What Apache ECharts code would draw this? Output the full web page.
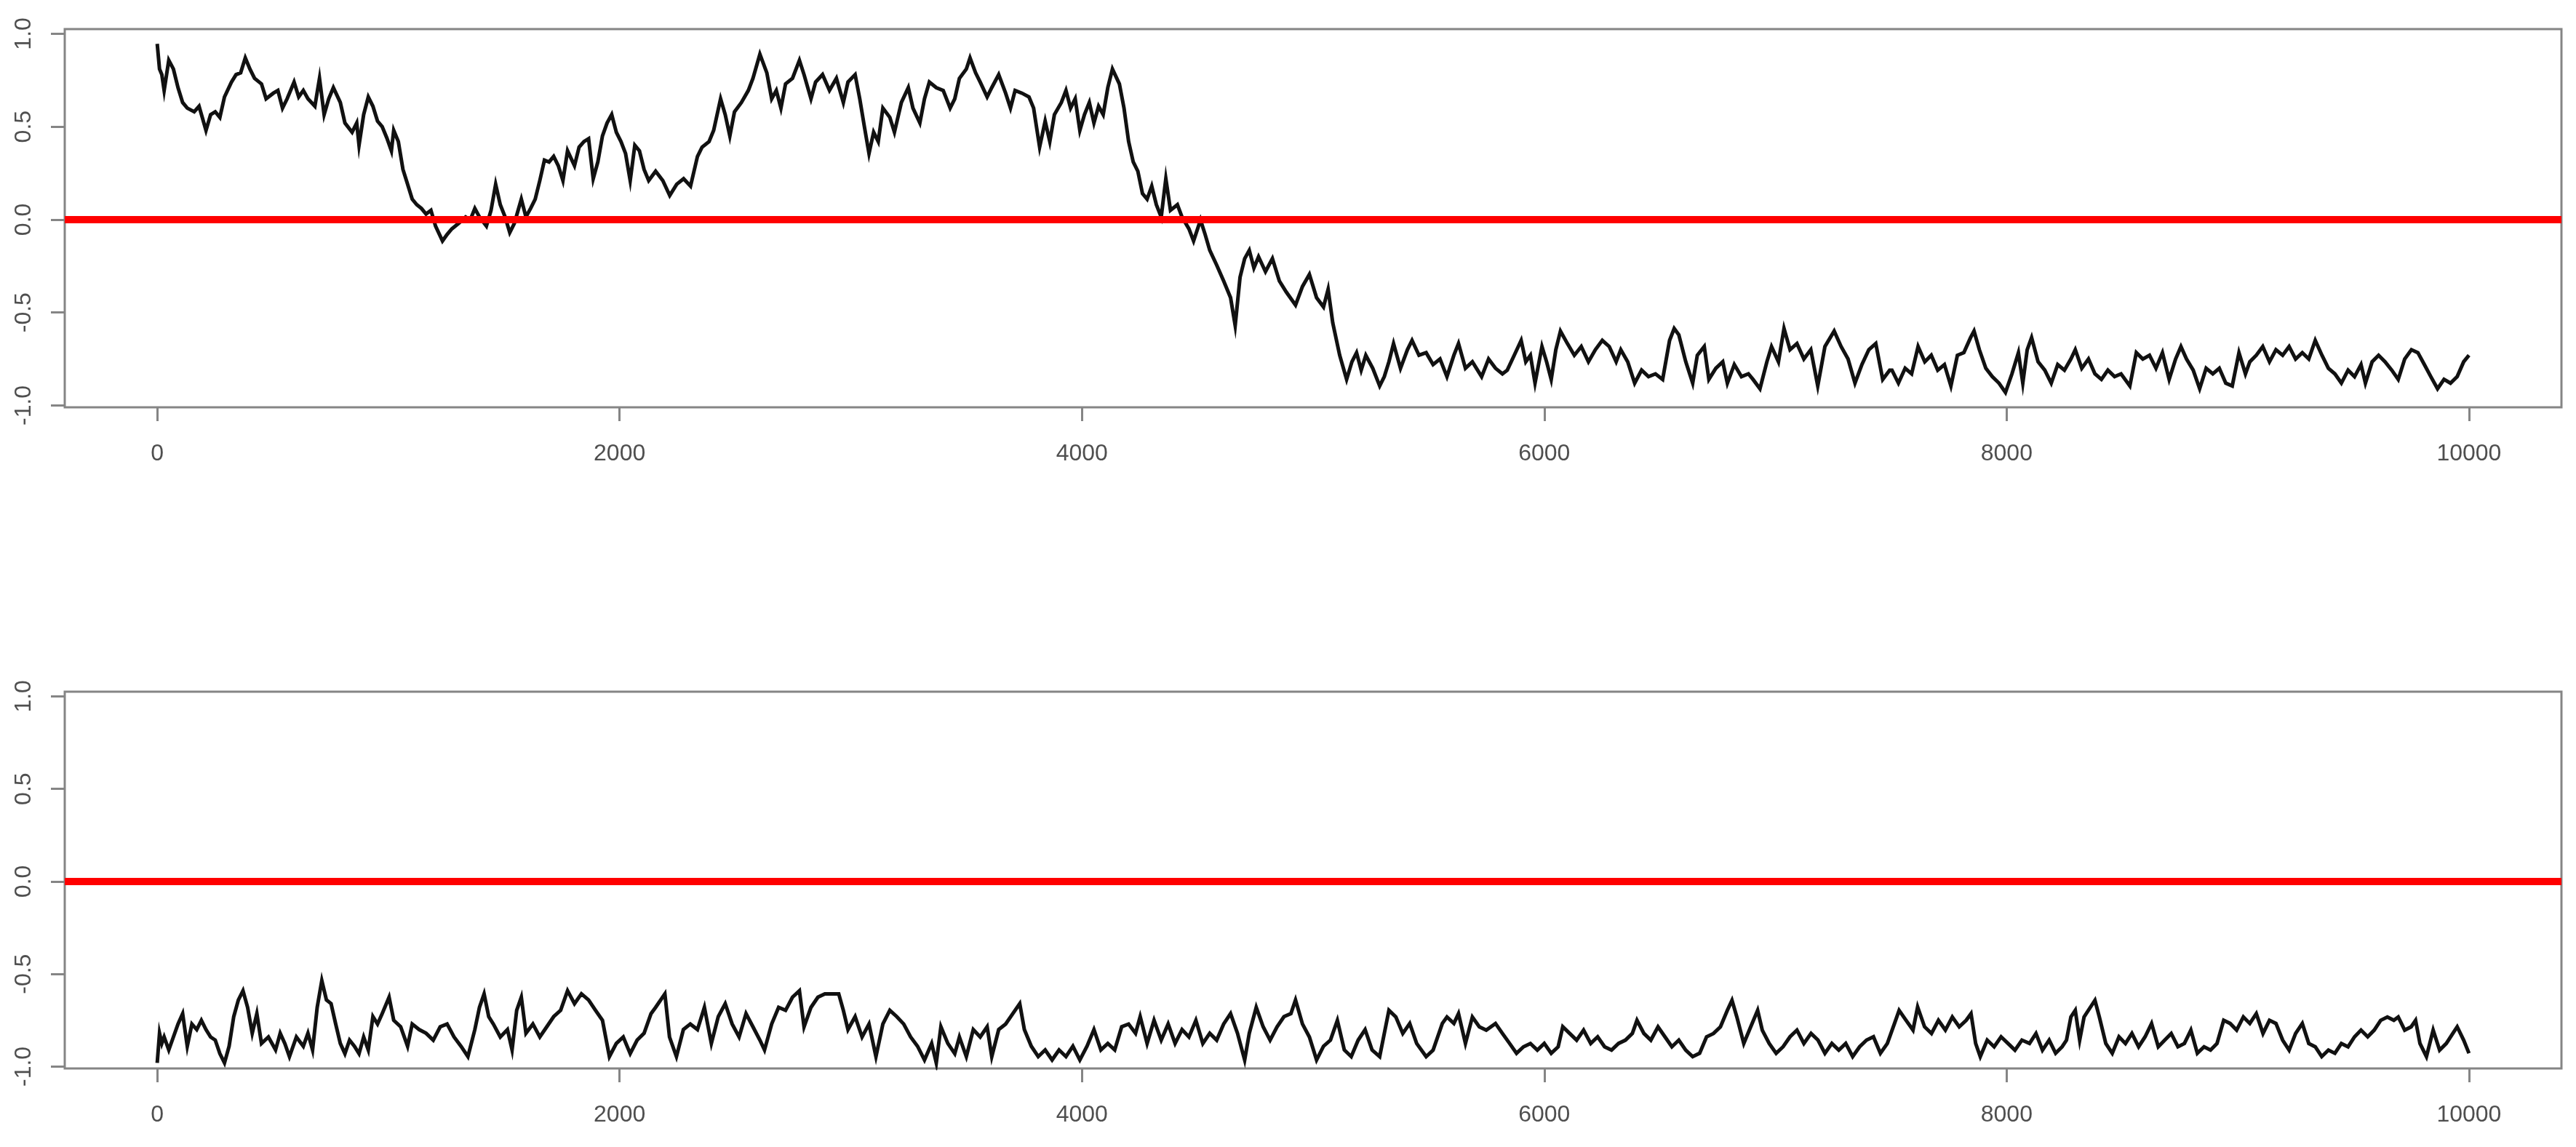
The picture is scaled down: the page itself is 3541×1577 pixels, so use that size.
<!DOCTYPE html>
<html>
<head>
<meta charset="utf-8">
<script src="https://cdn.jsdelivr.net/npm/echarts@6/dist/echarts.min.js"></script>
<style>
  html, body { margin: 0; padding: 0; background: #fff; }
  #main { width: 3541px; height: 1577px; }
</style>
</head>
<body>
<div id="main"></div>
<script>
// axis ticks and limits (R style: x padded 4% around 1..10000)
const xTicks = [0, 2000, 4000, 6000, 8000, 10000];
const yTicks = [-1.0, -0.5, 0.0, 0.5, 1.0];
const xRange = [-400, 10400];
const yRange = [-1.01, 1.025];
const zeroLevel = 0;

// top trace: [iteration, value]
const topTrace = [
  [0,0.946],[10,0.81],[20,0.78],[30,0.695],[50,0.857],[70,0.81],[90,0.71],[110,0.63],[130,0.60],[160,0.58],
  [181,0.61],[211,0.48],[231,0.565],[251,0.58],[271,0.55],[291,0.66],[321,0.74],[341,0.78],[361,0.79],[381,0.87],
  [401,0.81],[421,0.76],[451,0.73],[471,0.65],[502,0.68],[522,0.695],[542,0.60],[562,0.65],[592,0.74],[612,0.66],
  [632,0.695],[652,0.65],[682,0.61],[702,0.76],[722,0.565],[742,0.65],[762,0.71],[792,0.63],[812,0.52],[843,0.47],
  [863,0.52],[873,0.40],[893,0.565],[913,0.66],[933,0.61],[953,0.53],[973,0.50],[993,0.44],[1013,0.37],[1023,0.48],
  [1043,0.42],[1063,0.27],[1083,0.19],[1103,0.11],[1123,0.08],[1143,0.06],[1163,0.03],[1184,0.05],[1204,-0.035],[1234,-0.115],
  [1254,-0.08],[1274,-0.05],[1304,-0.02],[1334,0.014],[1354,-0.002],[1374,0.06],[1394,0.014],[1424,-0.035],[1444,0.05],[1464,0.19],
  [1484,0.08],[1505,0.014],[1525,-0.07],[1545,-0.02],[1575,0.11],[1595,0.014],[1615,0.06],[1635,0.11],[1655,0.21],[1675,0.32],
  [1695,0.31],[1715,0.34],[1735,0.29],[1755,0.21],[1775,0.37],[1805,0.29],[1825,0.39],[1846,0.42],[1866,0.435],[1886,0.22],
  [1906,0.31],[1926,0.45],[1946,0.52],[1966,0.565],[1986,0.47],[2006,0.42],[2026,0.355],[2046,0.21],[2066,0.40],[2086,0.37],
  [2106,0.27],[2126,0.21],[2156,0.26],[2187,0.21],[2217,0.13],[2247,0.19],[2277,0.22],[2307,0.18],[2337,0.34],[2357,0.39],
  [2387,0.42],[2407,0.48],[2437,0.65],[2457,0.565],[2477,0.45],[2497,0.58],[2527,0.63],[2557,0.695],[2577,0.76],[2607,0.89],
  [2637,0.79],[2658,0.65],[2678,0.695],[2698,0.60],[2718,0.73],[2748,0.76],[2778,0.857],[2798,0.78],[2828,0.65],[2848,0.74],
  [2878,0.78],[2908,0.695],[2938,0.76],[2968,0.63],[2988,0.74],[3019,0.78],[3039,0.65],[3059,0.50],[3079,0.355],[3099,0.47],
  [3119,0.42],[3139,0.60],[3169,0.55],[3189,0.47],[3219,0.63],[3249,0.71],[3269,0.60],[3299,0.52],[3319,0.65],[3340,0.74],
  [3370,0.71],[3400,0.695],[3430,0.60],[3450,0.65],[3470,0.76],[3500,0.81],[3516,0.87],[3540,0.79],[3560,0.74],[3590,0.66],
  [3610,0.71],[3640,0.78],[3670,0.68],[3691,0.60],[3711,0.695],[3741,0.68],[3771,0.66],[3791,0.60],[3817,0.39],[3841,0.53],
  [3861,0.42],[3881,0.565],[3911,0.63],[3931,0.695],[3951,0.60],[3971,0.65],[3991,0.48],[4011,0.565],[4032,0.63],[4052,0.52],
  [4072,0.61],[4092,0.565],[4112,0.71],[4132,0.81],[4162,0.73],[4182,0.60],[4202,0.42],[4222,0.31],[4242,0.26],[4262,0.14],
  [4282,0.11],[4302,0.18],[4322,0.08],[4343,0.014],[4363,0.22],[4383,0.05],[4413,0.08],[4433,0.014],[4463,-0.05],[4483,-0.115],
  [4513,-0.002],[4533,-0.08],[4553,-0.165],[4583,-0.245],[4613,-0.33],[4643,-0.42],[4663,-0.57],[4684,-0.31],[4704,-0.21],[4724,-0.165],
  [4744,-0.26],[4764,-0.20],[4794,-0.28],[4824,-0.21],[4854,-0.33],[4884,-0.39],[4924,-0.46],[4954,-0.36],[4984,-0.295],[5015,-0.42],
  [5045,-0.47],[5065,-0.375],[5085,-0.555],[5115,-0.73],[5145,-0.86],[5168,-0.765],[5188,-0.716],[5208,-0.81],[5228,-0.73],[5258,-0.80],
  [5288,-0.895],[5308,-0.845],[5328,-0.765],[5348,-0.667],[5378,-0.80],[5408,-0.70],[5428,-0.65],[5458,-0.73],[5489,-0.716],[5519,-0.78],
  [5549,-0.75],[5579,-0.845],[5609,-0.73],[5629,-0.667],[5659,-0.80],[5689,-0.765],[5729,-0.845],[5759,-0.75],[5789,-0.80],[5819,-0.83],
  [5840,-0.81],[5870,-0.73],[5900,-0.65],[5920,-0.765],[5940,-0.73],[5960,-0.88],[5990,-0.683],[6010,-0.765],[6030,-0.86],[6050,-0.70],
  [6070,-0.60],[6100,-0.667],[6130,-0.73],[6160,-0.683],[6191,-0.765],[6221,-0.70],[6251,-0.65],[6281,-0.683],[6311,-0.765],[6331,-0.70],
  [6361,-0.765],[6391,-0.88],[6421,-0.81],[6451,-0.845],[6481,-0.83],[6512,-0.86],[6542,-0.65],[6562,-0.586],[6582,-0.62],[6612,-0.765],
  [6642,-0.88],[6662,-0.73],[6692,-0.683],[6712,-0.86],[6742,-0.80],[6772,-0.765],[6792,-0.88],[6822,-0.78],[6853,-0.845],[6883,-0.83],
  [6903,-0.86],[6933,-0.91],[6963,-0.765],[6983,-0.683],[7013,-0.765],[7037,-0.586],[7063,-0.70],[7093,-0.667],[7123,-0.75],[7153,-0.70],
  [7183,-0.895],[7214,-0.683],[7254,-0.60],[7284,-0.683],[7314,-0.75],[7344,-0.88],[7374,-0.78],[7404,-0.70],[7434,-0.667],[7464,-0.86],
  [7494,-0.81],[7504,-0.81],[7532,-0.88],[7561,-0.80],[7589,-0.83],[7617,-0.683],[7646,-0.765],[7674,-0.73],[7702,-0.81],[7731,-0.78],
  [7759,-0.895],[7787,-0.73],[7815,-0.716],[7844,-0.635],[7859,-0.60],[7882,-0.70],[7910,-0.80],[7938,-0.845],[7967,-0.88],[7995,-0.93],
  [8023,-0.83],[8051,-0.716],[8070,-0.88],[8089,-0.70],[8108,-0.635],[8136,-0.765],[8165,-0.81],[8193,-0.88],[8221,-0.78],[8250,-0.81],
  [8278,-0.75],[8297,-0.70],[8325,-0.80],[8354,-0.75],[8382,-0.83],[8410,-0.86],[8438,-0.81],[8467,-0.845],[8495,-0.83],[8533,-0.895],
  [8561,-0.716],[8589,-0.75],[8618,-0.73],[8646,-0.80],[8674,-0.716],[8703,-0.86],[8731,-0.75],[8754,-0.683],[8778,-0.75],[8807,-0.81],
  [8835,-0.91],[8863,-0.80],[8892,-0.83],[8920,-0.80],[8948,-0.88],[8976,-0.895],[9005,-0.716],[9033,-0.83],[9052,-0.765],[9080,-0.73],
  [9108,-0.683],[9137,-0.765],[9165,-0.70],[9194,-0.73],[9222,-0.683],[9250,-0.75],[9279,-0.716],[9307,-0.75],[9335,-0.65],[9364,-0.73],
  [9392,-0.80],[9420,-0.83],[9448,-0.88],[9477,-0.81],[9505,-0.845],[9533,-0.78],[9552,-0.88],[9581,-0.765],[9609,-0.73],[9637,-0.765],
  [9666,-0.81],[9694,-0.86],[9722,-0.75],[9751,-0.70],[9779,-0.716],[9807,-0.78],[9835,-0.845],[9864,-0.91],[9892,-0.86],[9920,-0.88],
  [9949,-0.845],[9977,-0.765],[10000,-0.73]
];

// bottom trace: [iteration, value]
const bottomTrace = [
  [0,-0.98],[10,-0.82],[20,-0.875],[30,-0.84],[50,-0.91],[70,-0.84],[90,-0.77],[110,-0.714],[130,-0.89],[150,-0.77],
  [171,-0.80],[191,-0.75],[211,-0.80],[231,-0.84],[251,-0.857],[271,-0.93],[291,-0.98],[311,-0.89],[331,-0.73],[351,-0.64],
  [371,-0.59],[391,-0.68],[411,-0.82],[431,-0.714],[451,-0.875],[481,-0.84],[512,-0.91],[532,-0.82],[552,-0.875],[572,-0.946],
  [602,-0.84],[632,-0.89],[652,-0.82],[672,-0.91],[692,-0.68],[712,-0.535],[732,-0.64],[752,-0.66],[772,-0.77],[792,-0.875],
  [812,-0.93],[832,-0.857],[853,-0.89],[873,-0.93],[893,-0.84],[913,-0.91],[933,-0.73],[953,-0.77],[973,-0.714],[1003,-0.625],
  [1023,-0.75],[1053,-0.785],[1083,-0.89],[1103,-0.77],[1133,-0.80],[1163,-0.82],[1194,-0.857],[1224,-0.785],[1254,-0.77],[1284,-0.84],
  [1314,-0.89],[1344,-0.946],[1374,-0.80],[1394,-0.68],[1414,-0.607],[1434,-0.73],[1454,-0.77],[1484,-0.84],[1515,-0.80],[1535,-0.91],
  [1555,-0.696],[1575,-0.625],[1595,-0.82],[1625,-0.77],[1655,-0.84],[1685,-0.785],[1715,-0.73],[1745,-0.696],[1775,-0.59],[1805,-0.66],
  [1835,-0.607],[1866,-0.64],[1896,-0.696],[1926,-0.75],[1956,-0.946],[1986,-0.875],[2016,-0.84],[2046,-0.93],[2076,-0.857],[2106,-0.82],
  [2136,-0.714],[2156,-0.68],[2196,-0.607],[2216,-0.84],[2246,-0.946],[2276,-0.80],[2306,-0.77],[2337,-0.80],[2367,-0.68],[2397,-0.875],
  [2427,-0.73],[2457,-0.66],[2487,-0.77],[2517,-0.84],[2547,-0.714],[2577,-0.785],[2607,-0.857],[2627,-0.91],[2658,-0.77],[2688,-0.68],
  [2718,-0.696],[2748,-0.625],[2778,-0.59],[2798,-0.785],[2828,-0.68],[2858,-0.625],[2888,-0.607],[2918,-0.607],[2948,-0.607],[2968,-0.696],
  [2988,-0.80],[3019,-0.73],[3049,-0.84],[3079,-0.77],[3109,-0.946],[3139,-0.77],[3169,-0.696],[3199,-0.73],[3229,-0.77],[3259,-0.84],
  [3289,-0.89],[3319,-0.964],[3350,-0.875],[3370,-0.98],[3390,-0.785],[3420,-0.875],[3450,-0.93],[3470,-0.84],[3500,-0.946],[3530,-0.80],
  [3560,-0.84],[3590,-0.785],[3610,-0.946],[3640,-0.80],[3670,-0.77],[3701,-0.714],[3731,-0.66],[3751,-0.80],[3781,-0.89],[3811,-0.946],
  [3841,-0.91],[3871,-0.964],[3901,-0.91],[3931,-0.946],[3961,-0.89],[3991,-0.964],[4022,-0.89],[4052,-0.80],[4082,-0.91],[4112,-0.875],
  [4142,-0.91],[4172,-0.785],[4202,-0.77],[4232,-0.82],[4252,-0.73],[4282,-0.875],[4312,-0.75],[4343,-0.857],[4373,-0.77],[4403,-0.875],
  [4433,-0.80],[4463,-0.84],[4493,-0.75],[4523,-0.875],[4553,-0.82],[4583,-0.857],[4613,-0.77],[4643,-0.714],[4673,-0.82],[4704,-0.964],
  [4724,-0.82],[4754,-0.68],[4784,-0.785],[4814,-0.857],[4844,-0.785],[4874,-0.73],[4904,-0.714],[4924,-0.64],[4954,-0.77],[4984,-0.84],
  [5015,-0.964],[5045,-0.89],[5075,-0.857],[5105,-0.75],[5135,-0.91],[5165,-0.946],[5195,-0.857],[5225,-0.80],[5255,-0.91],[5288,-0.946],
  [5328,-0.696],[5358,-0.732],[5388,-0.821],[5418,-0.767],[5448,-0.875],[5489,-0.946],[5519,-0.911],[5559,-0.767],[5579,-0.732],[5609,-0.767],
  [5629,-0.714],[5659,-0.875],[5689,-0.732],[5719,-0.785],[5749,-0.803],[5789,-0.767],[5819,-0.821],[5850,-0.875],[5880,-0.928],[5910,-0.893],
  [5940,-0.875],[5970,-0.911],[6000,-0.875],[6030,-0.928],[6060,-0.893],[6080,-0.785],[6110,-0.821],[6140,-0.857],[6170,-0.803],[6201,-0.875],
  [6231,-0.839],[6261,-0.893],[6291,-0.911],[6321,-0.875],[6351,-0.857],[6381,-0.821],[6401,-0.75],[6431,-0.821],[6461,-0.857],[6492,-0.785],
  [6522,-0.839],[6552,-0.893],[6582,-0.857],[6612,-0.911],[6642,-0.946],[6672,-0.928],[6702,-0.839],[6732,-0.821],[6762,-0.785],[6792,-0.696],
  [6812,-0.642],[6833,-0.732],[6863,-0.875],[6893,-0.785],[6923,-0.696],[6943,-0.803],[6973,-0.875],[7003,-0.928],[7033,-0.893],[7063,-0.839],
  [7093,-0.803],[7123,-0.875],[7154,-0.821],[7184,-0.857],[7214,-0.928],[7244,-0.875],[7274,-0.911],[7304,-0.875],[7334,-0.946],[7364,-0.893],
  [7394,-0.857],[7424,-0.839],[7454,-0.928],[7484,-0.875],[7515,-0.767],[7535,-0.696],[7565,-0.75],[7595,-0.803],[7615,-0.678],[7645,-0.785],
  [7675,-0.821],[7705,-0.75],[7735,-0.803],[7765,-0.732],[7795,-0.785],[7825,-0.75],[7846,-0.714],[7866,-0.875],[7886,-0.946],[7916,-0.857],
  [7946,-0.893],[7976,-0.839],[8006,-0.875],[8036,-0.911],[8066,-0.857],[8099,-0.875],[8127,-0.821],[8155,-0.911],[8184,-0.857],[8212,-0.928],
  [8240,-0.893],[8259,-0.857],[8278,-0.732],[8297,-0.696],[8316,-0.857],[8335,-0.732],[8363,-0.678],[8382,-0.642],[8401,-0.732],[8429,-0.875],
  [8457,-0.928],[8486,-0.839],[8514,-0.875],[8542,-0.821],[8571,-0.893],[8599,-0.839],[8627,-0.767],[8656,-0.893],[8684,-0.857],[8712,-0.821],
  [8741,-0.893],[8769,-0.875],[8797,-0.803],[8825,-0.928],[8854,-0.893],[8882,-0.911],[8910,-0.875],[8939,-0.75],[8967,-0.767],[8995,-0.803],
  [9024,-0.732],[9052,-0.767],[9080,-0.714],[9109,-0.821],[9137,-0.75],[9165,-0.767],[9194,-0.857],[9222,-0.911],[9250,-0.821],[9279,-0.767],
  [9307,-0.875],[9335,-0.893],[9363,-0.946],[9392,-0.911],[9420,-0.928],[9448,-0.875],[9477,-0.893],[9505,-0.839],[9533,-0.803],[9562,-0.839],
  [9590,-0.803],[9618,-0.75],[9647,-0.732],[9675,-0.75],[9694,-0.732],[9722,-0.803],[9750,-0.785],[9769,-0.75],[9788,-0.875],[9816,-0.946],
  [9845,-0.803],[9873,-0.911],[9902,-0.875],[9930,-0.821],[9949,-0.785],[9977,-0.857],[10000,-0.928]
];

const axisGrey = '#858585';
const textGrey = '#4f4f4f';
const fontFamily = '"Liberation Sans", Arial, sans-serif';

function xAxisFor(gridIndex) {
  return {
    type: 'value',
    gridIndex: gridIndex,
    position: 'bottom',
    min: xRange[0],
    max: xRange[1],
    axisLine: { show: false, onZero: false },
    axisTick: { show: true, customValues: xTicks, length: 19, lineStyle: { color: axisGrey, width: 3 } },
    axisLabel: {
      customValues: xTicks, margin: 48, color: textGrey, fontSize: 32, fontFamily: fontFamily,
      formatter: function (v) { return String(v); }
    },
    splitLine: { show: false }
  };
}

function yAxisFor(gridIndex) {
  return {
    type: 'value',
    gridIndex: gridIndex,
    position: 'left',
    min: yRange[0],
    max: yRange[1],
    axisLine: { show: false, onZero: false },
    axisTick: { show: true, customValues: yTicks, length: 19, lineStyle: { color: axisGrey, width: 3 } },
    axisLabel: {
      customValues: yTicks, rotate: 90, margin: 40, color: textGrey, fontSize: 32, fontFamily: fontFamily,
      formatter: function (v) { return v.toFixed(1); }
    },
    splitLine: { show: false }
  };
}

function traceSeries(idx, data) {
  return {
    type: 'line', xAxisIndex: idx, yAxisIndex: idx,
    data: data, symbol: 'none', z: 2,
    lineStyle: { color: '#111', width: 5, join: 'miter' }
  };
}

function zeroSeries(idx) {
  return {
    type: 'line', xAxisIndex: idx, yAxisIndex: idx,
    data: [[xRange[0], zeroLevel], [xRange[1], zeroLevel]],
    symbol: 'none', z: 5,
    lineStyle: { color: '#ff0000', width: 10 }
  };
}

const chart = echarts.init(document.getElementById('main'), null, { renderer: 'canvas' });
chart.setOption({
  backgroundColor: '#ffffff',
  animation: false,
  grid: [
    { left: 89, top: 40, width: 3432, height: 520, show: true, borderColor: axisGrey, borderWidth: 3, backgroundColor: '#fff' },
    { left: 89, top: 951, width: 3432, height: 518, show: true, borderColor: axisGrey, borderWidth: 3, backgroundColor: '#fff' }
  ],
  xAxis: [xAxisFor(0), xAxisFor(1)],
  yAxis: [yAxisFor(0), yAxisFor(1)],
  series: [
    traceSeries(0, topTrace),
    zeroSeries(0),
    traceSeries(1, bottomTrace),
    zeroSeries(1)
  ]
});
</script>
</body>
</html>
